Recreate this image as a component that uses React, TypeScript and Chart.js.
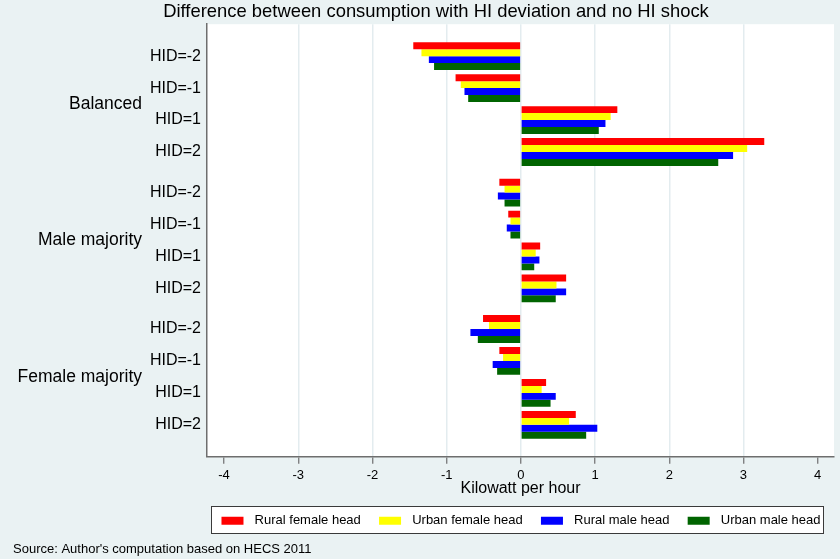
import React, { useEffect, useRef } from "react";
import { Chart, registerables } from "chart.js";

Chart.register(...registerables);

// ---- data ----
const GROUPS = ["Balanced", "Male majority", "Female majority"];
const HID_LEVELS = ["HID=-2", "HID=-1", "HID=1", "HID=2"];
const SERIES_NAMES = ["Rural female head", "Urban female head", "Rural male head", "Urban male head"];
const SERIES_COLORS = ["#FF0000", "#FFFF00", "#0000FF", "#006400"];

// rows: Balanced(-2,-1,1,2), Male majority(-2,-1,1,2), Female majority(-2,-1,1,2)
const RURAL_FEMALE = [-1.45, -0.88, 1.30, 3.28, -0.29, -0.17, 0.26, 0.61, -0.51, -0.29, 0.34, 0.74];
const URBAN_FEMALE = [-1.34, -0.81, 1.21, 3.05, -0.22, -0.14, 0.20, 0.48, -0.43, -0.24, 0.28, 0.65];
const RURAL_MALE = [-1.24, -0.76, 1.14, 2.86, -0.31, -0.19, 0.25, 0.61, -0.68, -0.38, 0.47, 1.03];
const URBAN_MALE = [-1.17, -0.71, 1.05, 2.66, -0.22, -0.14, 0.18, 0.47, -0.58, -0.32, 0.40, 0.88];
const SERIES = [RURAL_FEMALE, URBAN_FEMALE, RURAL_MALE, URBAN_MALE];

const X_TICKS = [-4, -3, -2, -1, 0, 1, 2, 3, 4];
const TITLE = "Difference between consumption with HI deviation and no HI shock";
const X_TITLE = "Kilowatt per hour";
const SOURCE = "Source: Author's computation based on HECS 2011";

// ---- layout helpers (row slots on the category axis) ----
const GROUP_GAP = 0.27;
const ROW_POS: number[] = [];
const ROW_LABELS: string[] = [];
const GROUP_CENTERS: number[] = [];
GROUPS.forEach((g, gi) => {
  const start = gi * (HID_LEVELS.length + GROUP_GAP);
  HID_LEVELS.forEach((h, hi) => {
    ROW_POS.push(start + hi);
    ROW_LABELS.push(h);
  });
  GROUP_CENTERS.push(start + (HID_LEVELS.length - 1) / 2);
});
const Y_MIN = -1;
const Y_MAX = ROW_POS[ROW_POS.length - 1] + 1;

const BG = "#EAF2F3";
const GRID = "#E3ECEF";
const AXIS = "#6E6E6E";
const FONT = 'Arial, "Liberation Sans", Helvetica, sans-serif';

const stataPlugin = {
  id: "stataLook",
  beforeDraw(chart: any) {
    const { ctx, chartArea, width, height } = chart;
    ctx.save();
    ctx.fillStyle = BG;
    ctx.fillRect(0, 0, width, height);
    ctx.fillStyle = "#FFFFFF";
    ctx.fillRect(chartArea.left, chartArea.top, chartArea.right - chartArea.left, chartArea.bottom - chartArea.top);
    const lg = chart.legend;
    if (lg && lg.legendHitBoxes && lg.legendHitBoxes.length) {
      const hb = lg.legendHitBoxes;
      const first = hb[0];
      const last = hb[hb.length - 1];
      const x0 = Math.round(first.left - 9) + 0.5;
      const x1 = Math.round(last.left + last.width + 2) + 0.5;
      const y0 = Math.round(first.top - 8) + 0.5;
      const y1 = Math.round(first.top + 19) + 0.5;
      ctx.fillStyle = "#FFFFFF";
      ctx.fillRect(x0, y0, x1 - x0, y1 - y0);
      ctx.strokeStyle = "#3A3A3A";
      ctx.lineWidth = 1;
      ctx.strokeRect(x0, y0, x1 - x0, y1 - y0);
    }
    ctx.restore();
  },
  afterDraw(chart: any) {
    const { ctx } = chart;
    ctx.save();
    ctx.fillStyle = "#000000";
    ctx.font = `18.4px ${FONT}`;
    ctx.textAlign = "center";
    ctx.textBaseline = "middle";
    ctx.fillText(TITLE, 436, 12.4);
    ctx.restore();
  },
};

export default function App() {
  const ref = useRef<HTMLCanvasElement | null>(null);

  useEffect(() => {
    if (!ref.current) return;
    Chart.defaults.font.family = FONT;
    Chart.defaults.color = "#000000";

    const datasets = SERIES_NAMES.map((name, si) => ({
      label: name,
      data: SERIES[si].map((v, i) => ({ x: v, y: ROW_POS[i] })),
      backgroundColor: SERIES_COLORS[si],
      borderWidth: 0,
      barPercentage: 1,
      categoryPercentage: 0.87,
    }));

    const chart = new Chart(ref.current, {
      type: "bar",
      data: { datasets },
      plugins: [stataPlugin],
      options: {
        indexAxis: "y",
        responsive: false,
        animation: false,
        events: [],
        layout: { padding: { left: 13, right: 6, top: 24.2, bottom: 2.2 } },
        scales: {
          x: {
            type: "linear",
            min: -4.23,
            max: 4.22,
            afterBuildTicks: (s: any) => {
              s.ticks = X_TICKS.map((v) => ({ value: v }));
            },
            ticks: {
              font: { size: 13, lineHeight: 1 },
              padding: 5,
              color: "#000",
              autoSkip: false,
              maxRotation: 0,
              callback: (v: any) => String(v),
            },
            grid: {
              color: (c: any) => (c.tick && Math.abs(c.tick.value) >= 4 ? "rgba(0,0,0,0)" : GRID),
              lineWidth: 1.5,
              tickColor: AXIS,
              tickLength: 7,
              tickWidth: 1.2,
            },
            border: { color: AXIS, width: 1.5 },
            title: {
              display: true,
              text: X_TITLE,
              color: "#000",
              font: { size: 16, lineHeight: 1 },
              padding: { top: -5.8, bottom: 7.2 },
            },
          },
          y: {
            type: "linear",
            position: "left",
            reverse: true,
            offset: false,
            weight: 0,
            min: Y_MIN,
            max: Y_MAX,
            afterBuildTicks: (s: any) => {
              s.ticks = ROW_POS.map((v) => ({ value: v }));
            },
            afterFit: (s: any) => {
              s.width = 58;
            },
            ticks: {
              autoSkip: false,
              color: "#000",
              padding: 6,
              font: { size: 16 },
              callback: (_v: any, i: number) => ROW_LABELS[i],
            },
            grid: { display: true, drawOnChartArea: false, drawTicks: false, offset: false },
            border: { display: true, color: AXIS, width: 1.5 },
          },
          y2: {
            type: "linear",
            position: "left",
            reverse: true,
            offset: false,
            weight: 1,
            min: Y_MIN,
            max: Y_MAX,
            afterBuildTicks: (s: any) => {
              s.ticks = GROUP_CENTERS.map((v) => ({ value: v }));
            },
            afterFit: (s: any) => {
              s.width = 136;
            },
            ticks: {
              autoSkip: false,
              color: "#000",
              padding: 7,
              font: { size: 17.5 },
              callback: (_v: any, i: number) => GROUPS[i],
            },
            grid: { display: false, drawTicks: false, offset: false },
            border: { display: false },
          },
        },
        plugins: {
          title: { display: false },
          subtitle: {
            display: true,
            text: SOURCE,
            position: "bottom",
            align: "start",
            color: "#000",
            font: { size: 13, weight: "normal" },
            padding: { top: 4, bottom: 0 },
          },
          legend: {
            display: true,
            position: "bottom",
            fullSize: false,
            labels: {
              color: "#000",
              font: { size: 13 },
              boxWidth: 24,
              boxHeight: 10,
              padding: 10,
              generateLabels: (ch: any) => {
                const base = Chart.defaults.plugins.legend.labels.generateLabels(ch);
                return base.map((it: any, i: number) => ({
                  ...it,
                  text: " " + it.text + (i < base.length - 1 ? "  " : ""),
                  strokeStyle: "#FFFFFF",
                  lineWidth: 2,
                }));
              },
            },
          },
          tooltip: { enabled: false },
        },
      } as any,
    });
    return () => chart.destroy();
  }, []);

  return (
    <div style={{ position: "absolute", left: 0, top: 0, width: 840, height: 559 }}>
      <canvas ref={ref} width={840} height={559} style={{ display: "block" }} />
    </div>
  );
}
